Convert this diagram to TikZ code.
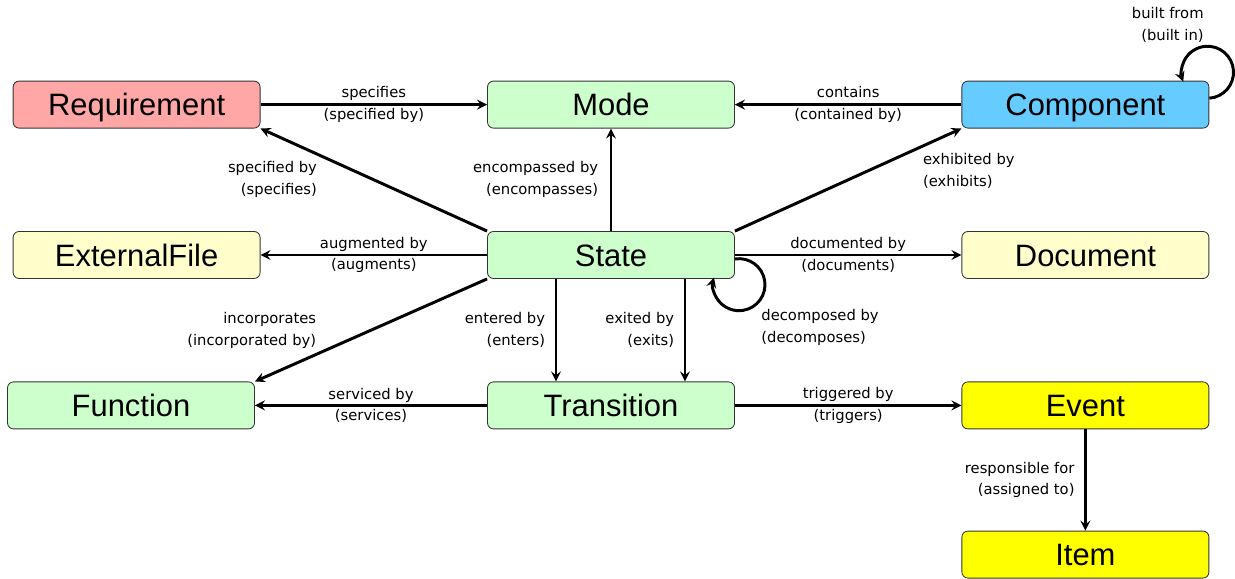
\documentclass[tikz,border=0pt]{standalone}
\usepackage{fontspec}
\setmainfont{Liberation Sans}
\newfontfamily\relfont{DejaVu Sans}
\usepackage{tikz}
\usetikzlibrary{arrows, positioning, shapes}
\definecolor{reqred}{HTML}{FFA6A6}
\definecolor{modegreen}{HTML}{CCFFCC}
\definecolor{compblue}{HTML}{66CCFF}
\definecolor{fileyellow}{HTML}{FFFFCC}
\definecolor{eventyellow}{HTML}{FFFF00}
\tikzstyle{entity} = [rectangle, rounded corners=0.15cm, minimum width=6.175cm, minimum height=1.175cm, text height=15.75pt, text depth=0pt, text centered, draw=black!80, line width=0.6pt, font=\fontsize{22}{26}\selectfont]
\tikzstyle{arrow} = [line width=2.1pt, ->, >=stealth]
\tikzstyle{rel} = [font=\relfont\fontsize{10.5}{15.5}\selectfont, inner sep=1pt, align=center]

\begin{document}
\begin{tikzpicture}[node distance=3.76cm]
        \useasboundingbox (0,0) rectangle (30.875,-14.475);
        \node (state) [entity, fill=modegreen] at (15.275,-6.375) {State};
        \node (mode) [entity, fill=modegreen, above of=state] {Mode};
        \node (transition) [entity, fill=modegreen, below of=state] {Transition};
        \node (requirement) [entity, fill=reqred, left of=mode, xshift=-8.1cm] {Requirement};
        \node (component) [entity, fill=compblue, right of=mode, xshift=8.1cm] {Component};
        \node (externalfile) [entity, fill=fileyellow, left of=state, xshift=-8.1cm] {ExternalFile};
        \node (document) [entity, fill=fileyellow, right of=state, xshift=8.1cm] {Document};
        \node (function) [entity, fill=modegreen, left of=transition, xshift=-8.24cm] {Function};
        \node (event) [entity, fill=eventyellow, right of=transition, xshift=8.1cm] {Event};
        \node (item) [entity, fill=eventyellow, below of=event, yshift=0.03cm] {Item};

        \draw [arrow] (requirement) -- node[rel] {specifies\\(specified by)} (mode);
        \draw [arrow] (component) -- node[rel] {contains\\(contained by)} (mode);
        \draw [arrow] (state.north west) -- node[rel, left=1.35cm, align=right] {specified by\\(specifies)} (requirement.south east);
        \draw [arrow] (state) -- node[rel, left=0.25cm, align=right] {encompassed by\\(encompasses)} (mode);
        \draw [arrow] (state.north east) -- node[rel, right=1.8cm, yshift=0.22cm, align=left] {exhibited by\\(exhibits)} (component.south west);
        \draw [arrow] (state) -- node[rel] {augmented by\\(augments)} (externalfile);
        \draw [arrow] (state) -- node[rel] {documented by\\(documents)} (document);
        \draw [arrow] (state.south west) -- node[rel, left=1.3cm, align=right] {incorporates\\(incorporated by)} (function.north east);
        \draw [arrow] ([xshift=-1.375cm]state.south) -- node[rel, left=0.2cm, align=right] {entered by\\(enters)} ([xshift=-1.375cm]transition.north);
        \draw [arrow] ([xshift=1.85cm]state.south) -- node[rel, left=0.2cm, align=right] {exited by\\(exits)} ([xshift=1.85cm]transition.north);
        \draw [arrow] (transition) -- node[rel] {serviced by\\(services)} (function);
        \draw [arrow] (transition) -- node[rel] {triggered by\\(triggers)} (event);
        \draw [arrow] (event) -- node[rel, left=0.2cm, align=right] {responsible for\\(assigned to)} (item);

        % self loops
        \draw [arrow] ([yshift=-0.1cm]state.east) arc[start angle=99, end angle=-196, radius=0.65cm];
        \node (decomposed) [rel, align=left, anchor=west] at ([xshift=0.62cm, yshift=-1.21cm]state.south east) {decomposed by\\(decomposes)};
        \draw [arrow] ([yshift=0.16cm]component.east) arc[start angle=-86, end angle=201, radius=0.65cm];
        \node (builtfrom) [rel, align=right, anchor=east] at ([xshift=-0.1cm, yshift=1.39cm]component.north east) {built from\\(built in)};

\end{tikzpicture}
\end{document}
